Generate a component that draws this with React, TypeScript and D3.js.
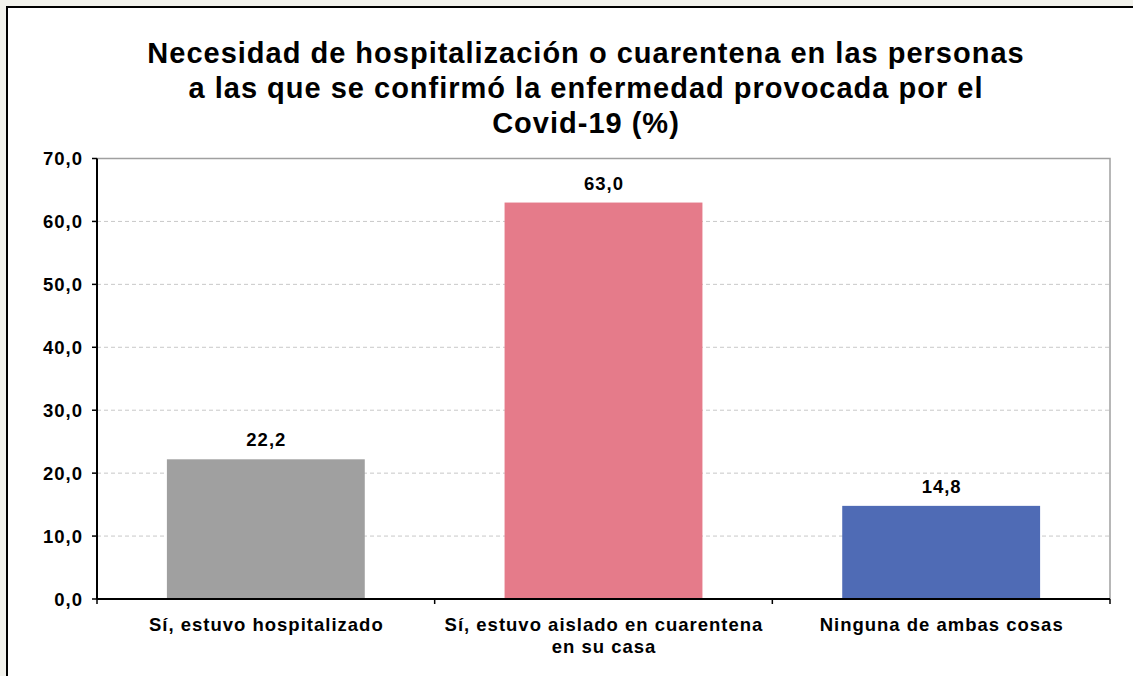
import React, { useEffect, useRef } from "react";
import * as d3 from "d3";

const categories: string[][] = [
  ["Sí, estuvo hospitalizado"],
  ["Sí, estuvo aislado en cuarentena", "en su casa"],
  ["Ninguna de ambas cosas"],
];
const values: number[] = [22.2, 63.0, 14.8];
const barColors: string[] = ["#a0a0a0", "#e57b8a", "#4f6bb5"];
const yTicks: number[] = [0, 10, 20, 30, 40, 50, 60, 70];
const titleLines: string[] = [
  "Necesidad de hospitalización o cuarentena en las personas",
  "a las que se confirmó la enfermedad provocada por el",
  "Covid-19 (%)",
];

const W = 1133;
const H = 676;
const FONT = "'Liberation Sans', Arial, sans-serif";

export default function App() {
  const ref = useRef<SVGSVGElement | null>(null);

  useEffect(() => {
    const svg = d3.select(ref.current);
    svg.selectAll("*").remove();

    const left = 97, right = 1110, top = 158.5, bottom = 599;
    const fmt = (v: number) => v.toFixed(1).replace(".", ",");

    svg.append("rect").attr("x", 0).attr("y", 0).attr("width", W).attr("height", H).attr("fill", "#f2f2ec");
    svg.append("rect").attr("x", 7).attr("y", 7).attr("width", W + 20).attr("height", H + 20)
      .attr("fill", "#ffffff").attr("stroke", "#000").attr("stroke-width", 2);

    const title = svg.append("text").attr("text-anchor", "middle").attr("font-family", FONT)
      .attr("font-weight", "bold").attr("font-size", 29).attr("letter-spacing", 1).attr("fill", "#000");
    titleLines.forEach((t, i) => {
      title.append("tspan").attr("x", 586).attr("y", 63 + i * 35).text(t);
    });

    const x = d3.scaleBand<number>().domain(values.map((_, i) => i)).range([left, right]).paddingInner(0.414).paddingOuter(0.207);
    const xCat = d3.scaleBand<number>().domain(values.map((_, i) => i)).range([left, right]);
    const y = d3.scaleLinear().domain([0, 70]).range([bottom, top]);

    // grid
    svg.append("g").selectAll("line").data(yTicks.filter(t => t > 0 && t < 70)).join("line")
      .attr("x1", left).attr("x2", right).attr("y1", d => y(d)).attr("y2", d => y(d))
      .attr("stroke", "#c8c8c8").attr("stroke-width", 1).attr("stroke-dasharray", "4,3");
    // plot border top/right
    svg.append("path").attr("d", `M${left},${y(70)}H${right}V${bottom}`)
      .attr("fill", "none").attr("stroke", "#a0a0a0").attr("stroke-width", 1.5);

    // bars
    svg.append("g").selectAll("rect").data(values).join("rect")
      .attr("x", (_, i) => x(i)!).attr("width", x.bandwidth())
      .attr("y", d => y(d)).attr("height", d => bottom - y(d))
      .attr("fill", (_, i) => barColors[i]);

    // value labels
    svg.append("g").selectAll("text").data(values).join("text")
      .attr("x", (_, i) => x(i)! + x.bandwidth() / 2 + 0.5).attr("y", d => y(d) - 13)
      .attr("text-anchor", "middle").attr("font-family", FONT).attr("font-weight", "bold")
      .attr("font-size", 18.5).attr("letter-spacing", 1).attr("fill", "#000").text(d => fmt(d));

    // y axis
    const ya = svg.append("g");
    ya.append("line").attr("x1", left).attr("x2", left).attr("y1", top).attr("y2", bottom)
      .attr("stroke", "#000").attr("stroke-width", 2);
    ya.selectAll("line.t").data(yTicks).join("line").attr("class", "t")
      .attr("x1", left - 5).attr("x2", left).attr("y1", d => y(d)).attr("y2", d => y(d))
      .attr("stroke", "#000").attr("stroke-width", 1.5);
    ya.selectAll("text").data(yTicks).join("text")
      .attr("x", 83).attr("y", d => y(d) + 6.5).attr("text-anchor", "end")
      .attr("font-family", FONT).attr("font-weight", "bold").attr("font-size", 18.5)
      .attr("letter-spacing", 1).attr("fill", "#000")
      .text(d => fmt(d));

    // x axis
    const xa = svg.append("g");
    xa.append("line").attr("x1", left).attr("x2", right).attr("y1", bottom).attr("y2", bottom)
      .attr("stroke", "#000").attr("stroke-width", 2);
    const bounds = [left, ...values.map((_, i) => xCat(i)! + xCat.bandwidth())];
    xa.selectAll("line.t").data(bounds).join("line").attr("class", "t")
      .attr("x1", d => d).attr("x2", d => d).attr("y1", bottom).attr("y2", bottom + 5)
      .attr("stroke", "#000").attr("stroke-width", 1.5);
    categories.forEach((lines, i) => {
      const t = xa.append("text").attr("text-anchor", "middle").attr("font-family", FONT)
        .attr("font-weight", "bold").attr("font-size", 18.5).attr("letter-spacing", 1).attr("fill", "#000");
      lines.forEach((l, j) => {
        t.append("tspan").attr("x", xCat(i)! + xCat.bandwidth() / 2 + 0.5).attr("y", 631 + j * 21.5).text(l);
      });
    });
  }, []);

  return (
    <svg ref={ref} width={W} height={H}
      style={{ position: "absolute", left: 0, top: 0, display: "block" }} />
  );
}
